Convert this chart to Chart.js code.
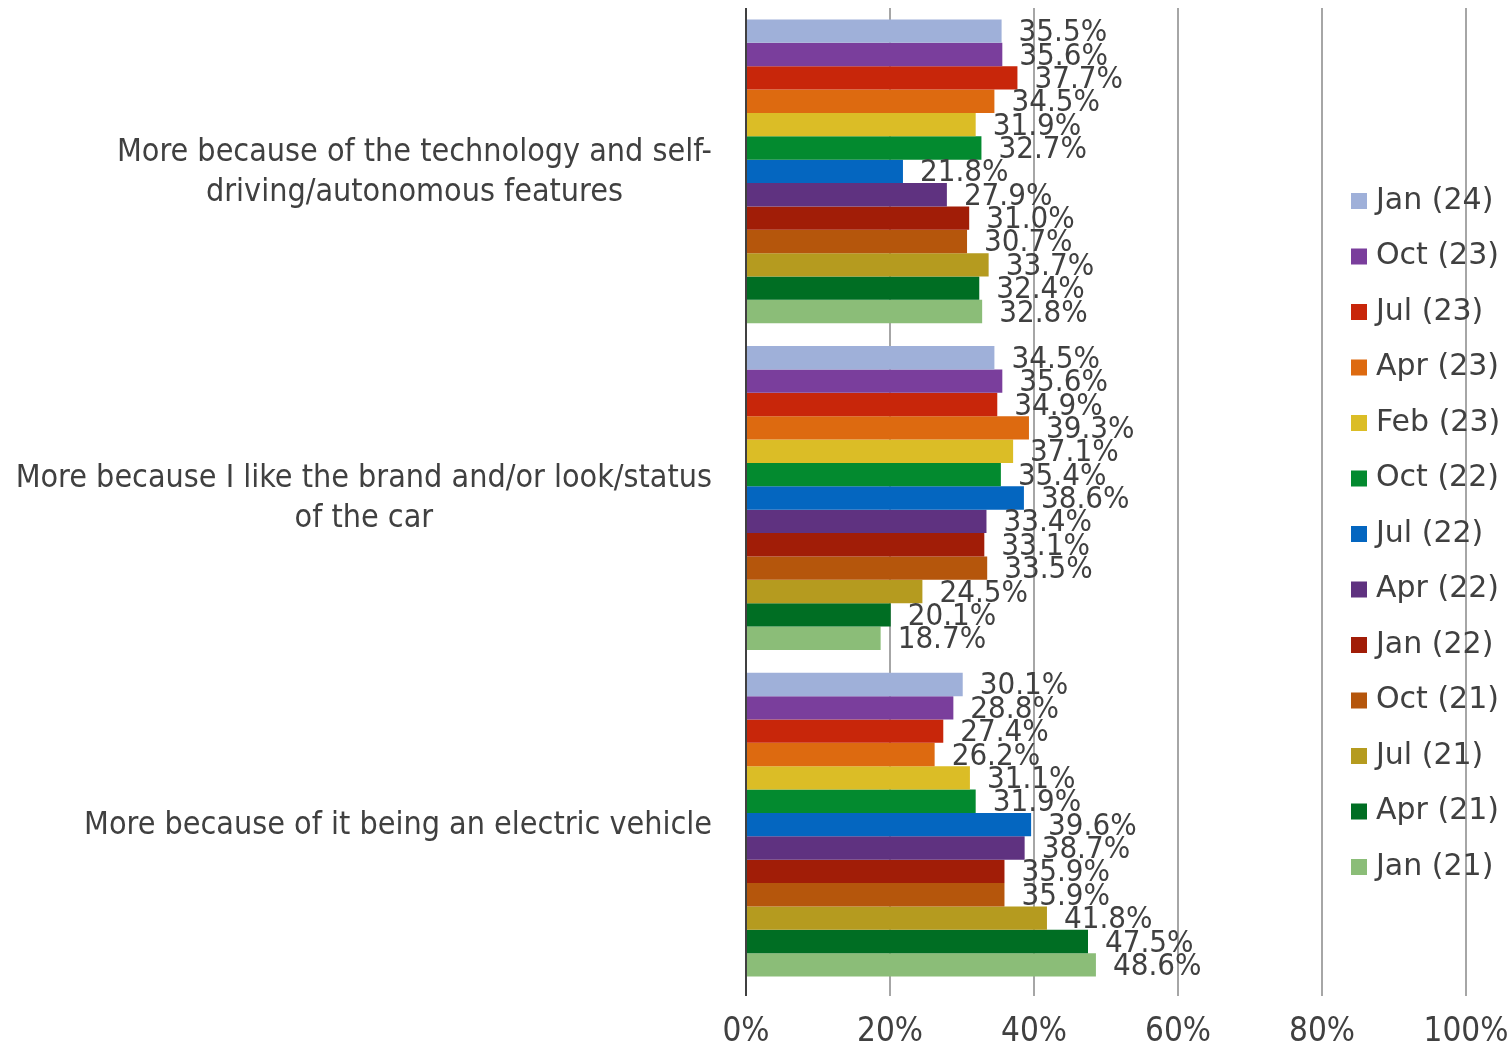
<!DOCTYPE html>
<html>
<head>
<meta charset="utf-8">
<title>EV purchase reasons</title>
<script src="https://cdn.jsdelivr.net/npm/chart.js@4.4.1/dist/chart.umd.min.js"></script>
<style>
    html, body { margin: 0; padding: 0; background: #fff; }
    .chart-wrap { position: relative; width: 1510px; height: 1057px; }
</style>
</head>
<body>
<div class="chart-wrap">
    <canvas id="reasonChart"></canvas>
</div>
<script>
// 카테고리 (줄바꿈 포함)
var categories = [
    ['More because of the technology and self-', 'driving/autonomous features'],
    ['More because I like the brand and/or look/status', 'of the car'],
    ['More because of it being an electric vehicle']
];

// 조사 회차 (위 -> 아래 순서)
var waves = ['Jan (24)', 'Oct (23)', 'Jul (23)', 'Apr (23)', 'Feb (23)', 'Oct (22)',
    'Jul (22)', 'Apr (22)', 'Jan (22)', 'Oct (21)', 'Jul (21)', 'Apr (21)', 'Jan (21)'];

// 회차별 값 (%) - 카테고리 하나당 배열 하나
var techValues  = [35.5, 35.6, 37.7, 34.5, 31.9, 32.7, 21.8, 27.9, 31.0, 30.7, 33.7, 32.4, 32.8];
var brandValues = [34.5, 35.6, 34.9, 39.3, 37.1, 35.4, 38.6, 33.4, 33.1, 33.5, 24.5, 20.1, 18.7];
var evValues    = [30.1, 28.8, 27.4, 26.2, 31.1, 31.9, 39.6, 38.7, 35.9, 35.9, 41.8, 47.5, 48.6];

var xTicks = [0, 20, 40, 60, 80, 100];

var waveColors = ['#9fb0d9', '#7a3e9c', '#c8260a', '#dd6a10', '#dbbd26', '#038a2f',
    '#0466c0', '#5f3280', '#a11d07', '#b5560c', '#b59b1f', '#006e23', '#8bbd78'];

var textColor = '#404040';
var condensed = "'DejaVu Sans Condensed', 'Liberation Sans Narrow', sans-serif";
var wide = "'DejaVu Sans', Verdana, sans-serif";

var datasets = waves.map(function (w, i) {
    return {
        label: w,
        backgroundColor: waveColors[i],
        borderWidth: 0,
        data: [techValues[i], brandValues[i], evValues[i]]
    };
});

// 막대 끝 값 라벨
var valueLabels = {
    id: 'valueLabels',
    afterDatasetsDraw: function (chart) {
        var ctx = chart.ctx;
        ctx.save();
        ctx.font = '31px ' + condensed;
        ctx.fillStyle = textColor;
        ctx.textAlign = 'left';
        ctx.textBaseline = 'middle';
        chart.data.datasets.forEach(function (ds, i) {
            chart.getDatasetMeta(i).data.forEach(function (bar, j) {
                ctx.fillText(ds.data[j].toFixed(1) + '%', bar.x + 17, bar.y + 2);
            });
        });
        ctx.restore();
    }
};

// 카테고리 라벨: 오른쪽 정렬된 블록 안에서 줄 가운데 정렬
var categoryLabels = {
    id: 'categoryLabels',
    afterDraw: function (chart) {
        var ctx = chart.ctx;
        var yScale = chart.scales.y;
        var rightEdge = chart.chartArea.left - 34;
        ctx.save();
        ctx.font = '32px ' + condensed;
        ctx.fillStyle = textColor;
        ctx.textAlign = 'center';
        ctx.textBaseline = 'middle';
        categories.forEach(function (lines, i) {
            var widest = 0;
            lines.forEach(function (l) { widest = Math.max(widest, ctx.measureText(l).width); });
            var cx = rightEdge - widest / 2;
            var cy = yScale.getPixelForTick(i) + 1;
            var lh = 40;
            lines.forEach(function (l, k) {
                ctx.fillText(l, cx, cy - (lines.length - 1) * lh / 2 + k * lh);
            });
        });
        ctx.restore();
    }
};

// 범례 (플롯 영역 위에 겹쳐 그림)
var floatLegend = {
    id: 'floatLegend',
    afterDraw: function (chart) {
        var ctx = chart.ctx;
        var x0 = 1351, y0 = 201, step = 55.5, box = 16;
        ctx.save();
        ctx.font = '30px ' + wide;
        ctx.textAlign = 'left';
        ctx.textBaseline = 'middle';
        chart.data.datasets.forEach(function (ds, i) {
            var y = y0 + i * step;
            ctx.fillStyle = ds.backgroundColor;
            ctx.fillRect(x0, y - box / 2, box, box);
            ctx.fillStyle = textColor;
            ctx.fillText(ds.label, x0 + 25, y);
        });
        ctx.restore();
    }
};

var ctx = document.getElementById('reasonChart').getContext('2d');
var chart = new Chart(ctx, {
    type: 'bar',
    data: {
        labels: categories,
        datasets: datasets
    },
    plugins: [valueLabels, categoryLabels, floatLegend],
    options: {
        indexAxis: 'y', //수평그래프
        responsive: true,
        maintainAspectRatio: false,
        animation: false,
        devicePixelRatio: 1,
        layout: { padding: { top: 8, bottom: 7, left: 0, right: 44 } },
        datasets: {
            bar: { categoryPercentage: 0.93, barPercentage: 1.0 }
        },
        plugins: {
            legend: { display: false },
            tooltip: { enabled: false }
        },
        scales: {
            x: {
                min: 0,
                max: 100,
                afterBuildTicks: function (scale) {
                    scale.ticks = xTicks.map(function (v) { return { value: v }; });
                },
                afterFit: function (scale) {
                    scale.height = 62;
                    scale.paddingLeft = 0;
                    scale.paddingRight = 0;
                },
                ticks: {
                    padding: 17,
                    color: textColor,
                    font: { family: condensed, size: 33 },
                    callback: function (v) { return v + '%'; }
                },
                grid: {
                    lineWidth: 2,
                    tickLength: 8,
                    color: function (c) { return c.tick && c.tick.value === 0 ? '#404040' : '#a6a6a6'; }
                },
                border: { display: false }
            },
            y: {
                afterFit: function (scale) { scale.width = 746; },
                ticks: { display: false },
                grid: { display: false },
                border: { display: false }
            }
        }
    }
});
</script>
</body>
</html>
